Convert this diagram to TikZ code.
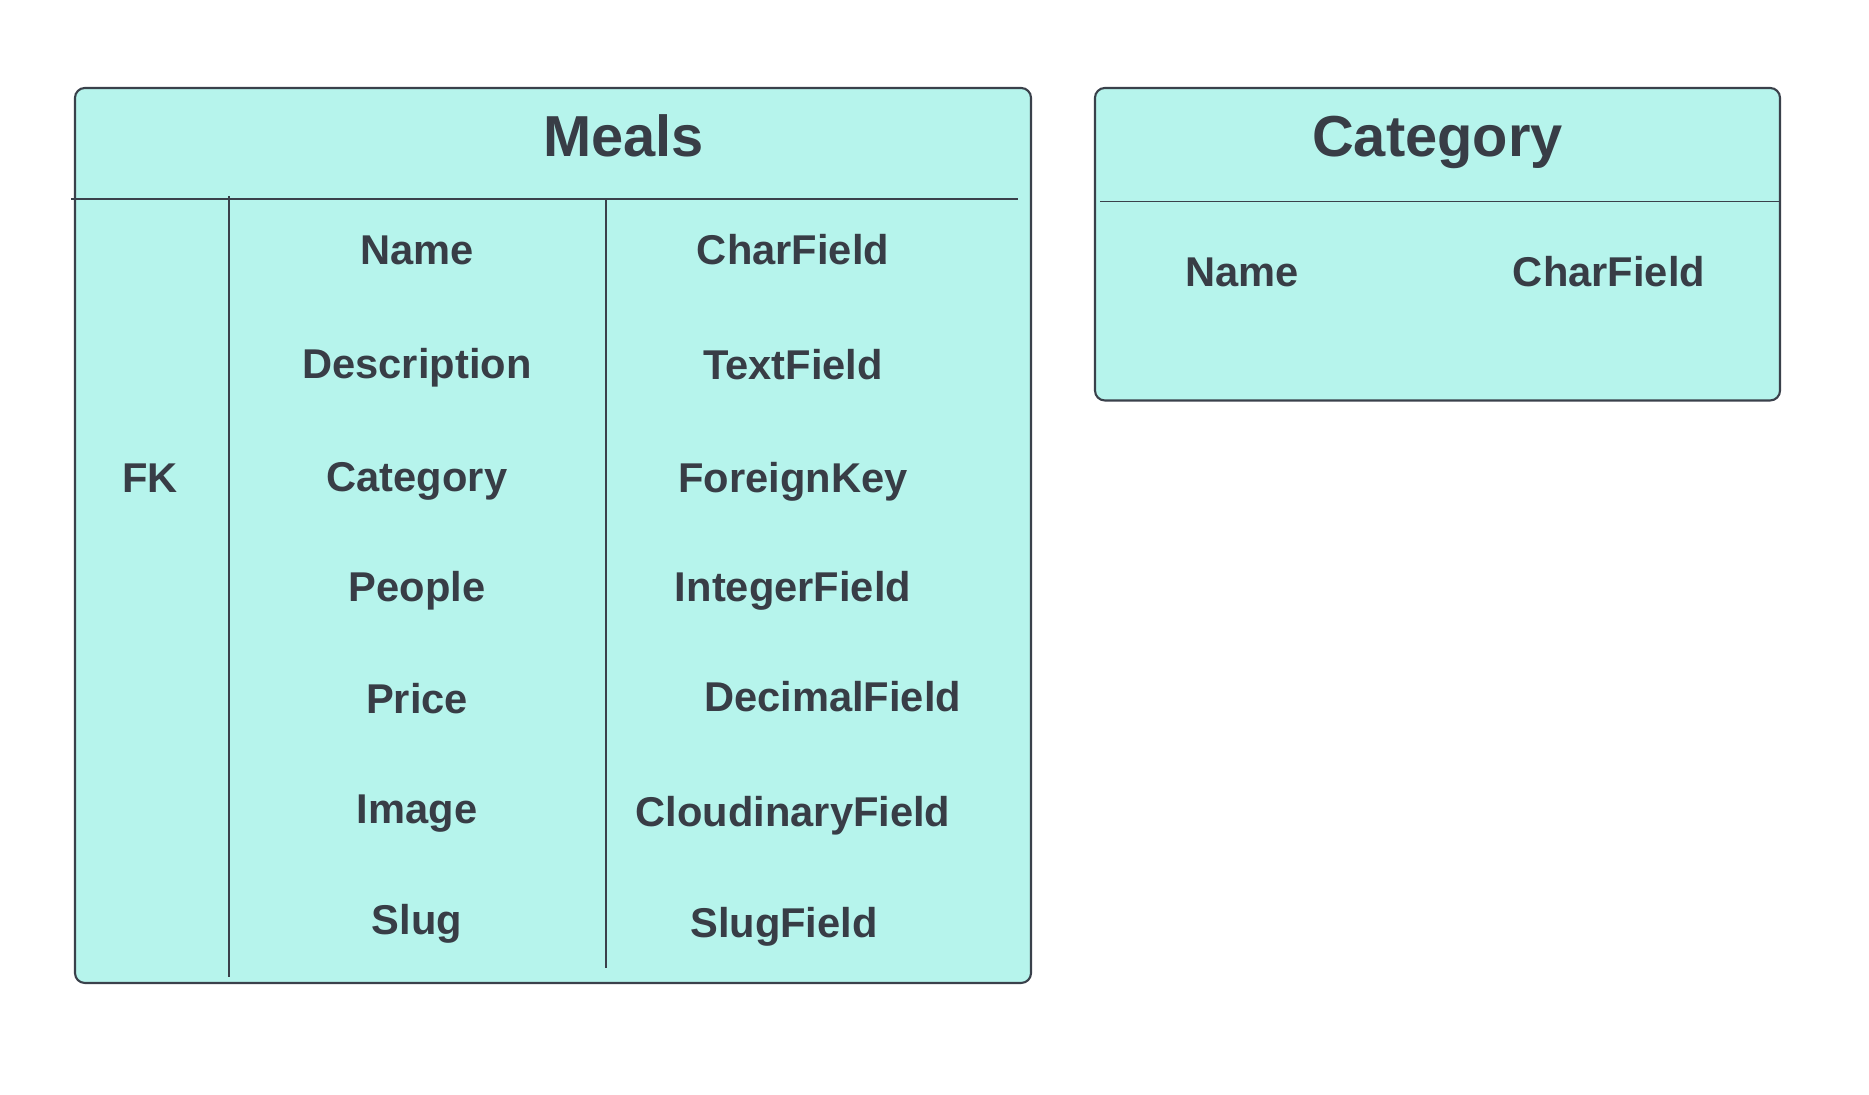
\documentclass[tikz,border=0pt]{standalone}
\usepackage{fontspec}
\setmainfont{Liberation Sans}
\definecolor{tabfill}{HTML}{B6F4EC}
\definecolor{tabline}{HTML}{3A414B}
\definecolor{tabtext}{HTML}{383D46}
\tikzset{
  tablebox/.style={draw=tabline,fill=tabfill,line width=0.6pt,rounded corners=2.8pt},
  sepline/.style={draw=tabline,line width=0.5pt},
  titletext/.style={text=tabtext,font=\fontsize{16.45pt}{16.45pt}\selectfont\bfseries,inner sep=0pt,text height=11.75pt,text depth=0pt},
  fieldtext/.style={text=tabtext,font=\fontsize{11.85pt}{11.85pt}\selectfont\bfseries,inner sep=0pt,text height=8.4pt,text depth=0pt}
}
\begin{document}
\begin{tikzpicture}
  \useasboundingbox (0,0) rectangle (18.69,10.95);
  %caixas
  \draw[tablebox] (0.75,10.07) rectangle (10.31,1.12);
  \draw[tablebox] (10.95,10.07) rectangle (17.80,6.945);

  %linhas da tabela Meals
  \coordinate (mh1) at (0.71,8.96);
  \coordinate (mh2) at (10.18,8.96);
  \coordinate (mv1) at (2.29,8.99);
  \coordinate (mv2) at (2.29,1.18);
  \coordinate (mw1) at (6.06,8.96);
  \coordinate (mw2) at (6.06,1.27);
  \draw[sepline] (mh1) -- (mh2);
  \draw[sepline] (mv1) -- (mv2);
  \draw[sepline] (mw1) -- (mw2);

  %linha da tabela Category
  \coordinate (ch1) at (11.00,8.935);
  \coordinate (ch2) at (17.80,8.935);
  \draw[sepline] (ch1) -- (ch2);

  %titulos
  \node[titletext] (meals) at (6.235,9.59) {Meals};
  \node[titletext] (category) at (14.375,9.59) {Category};

  %campos de Meals
  \node[fieldtext] (fk) at (1.50,6.17) {FK};
  \node[fieldtext] (mname) at (4.17,8.45) {Name};
  \node[fieldtext] (mdesc) at (4.17,7.315) {Description};
  \node[fieldtext] (mcat) at (4.17,6.18) {Category};
  \node[fieldtext] (mpeople) at (4.17,5.085) {People};
  \node[fieldtext] (mprice) at (4.17,3.965) {Price};
  \node[fieldtext] (mimage) at (4.17,2.86) {Image};
  \node[fieldtext] (mslug) at (4.17,1.75) {Slug};

  %tipos de Meals
  \node[fieldtext] (tname) at (7.93,8.45) {CharField};
  \node[fieldtext] (tdesc) at (7.93,7.30) {TextField};
  \node[fieldtext] (tcat) at (7.93,6.17) {ForeignKey};
  \node[fieldtext] (tpeople) at (7.93,5.085) {IntegerField};
  \node[fieldtext] (tprice) at (8.326,3.98) {DecimalField};
  \node[fieldtext] (timage) at (7.93,2.83) {CloudinaryField};
  \node[fieldtext] (tslug) at (7.84,1.725) {SlugField};

  %campos de Category
  \node[fieldtext] (cname) at (12.42,8.23) {Name};
  \node[fieldtext] (ctype) at (16.09,8.23) {CharField};
\end{tikzpicture}
\end{document}
